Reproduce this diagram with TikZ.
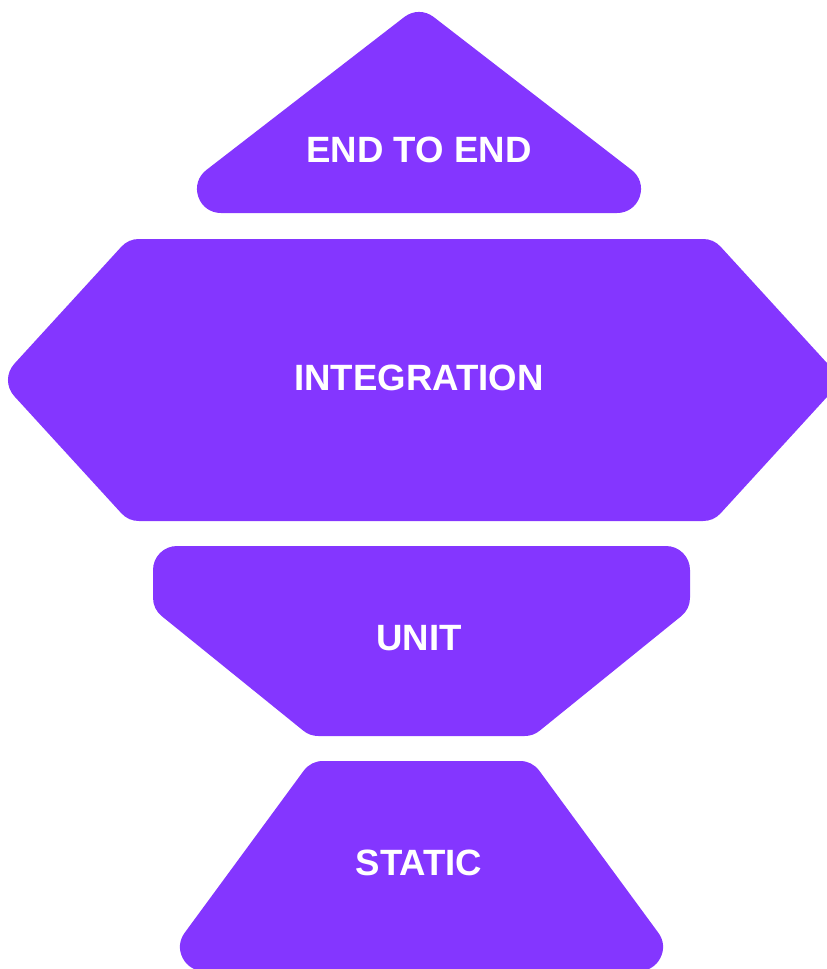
\documentclass[tikz,border=0pt]{standalone}
\usepackage{fontspec}
\setmainfont{Liberation Sans}
\definecolor{layerpurple}{HTML}{8436FF}

\begin{document}
\begin{tikzpicture}[x=1pt,y=-1pt,
    layer/.style={fill=layerpurple,draw=layerpurple,line width=48pt,line join=round},
    tag/.style={text=white,inner sep=0pt,font=\fontsize{36.6}{36.6}\selectfont\bfseries}]
        \useasboundingbox (0,0) rectangle (827,969);
        \clip (0,0) rectangle (827,969);
        % the four layers, each drawn from its inner outline
        \path[layer] (419,36) -- (617,189) -- (221,189) -- cycle;
        \path[layer] (32,380) -- (139,263) -- (703,263) -- (810,380) -- (703,497) -- (139,497) -- cycle;
        \path[layer] (177,570) -- (666,570) -- (666,597.6) -- (524.6,712) -- (318.4,712) -- (177,597.6) -- cycle;
        \path[layer] (323,785) -- (520,785) -- (639,947) -- (204,947) -- cycle;
        % labels
        \node[tag] (endtoend) at (419,150) {END TO END};
        \node[tag] (integration) at (419,378) {INTEGRATION};
        \node[tag] (unit) at (419,638) {UNIT};
        \node[tag] (static) at (419,863) {STATIC};
\end{tikzpicture}
\end{document}
